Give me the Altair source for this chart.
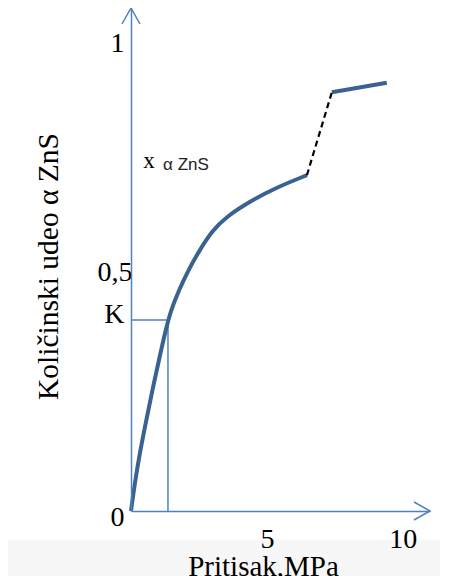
import altair as alt
import pandas as pd

# ---- data ----
curve_x = [0, 0.147, 0.331, 0.551, 0.772, 1.029, 1.25, 1.471, 1.765, 2.096, 2.5, 2.978, 3.493, 4.449, 5.478, 6.471]
curve_y = [0, 0.062, 0.126, 0.190, 0.254, 0.322, 0.380, 0.429, 0.471, 0.512, 0.554, 0.597, 0.627, 0.663, 0.693, 0.716]
dash_x = [6.471, 7.39]
dash_y = [0.716, 0.893]
upper_x = [7.39, 9.41]
upper_y = [0.893, 0.913]
K_x = 1.36
K_y = 0.407
x_ticks = [5, 10]
y_ticks = [0, K_y, 0.5, 1]
x_max = 11
y_max = 1.0725

AXIS_BLUE = "#4F81BD"
CURVE_BLUE = "#3A6291"
SERIF = "'Liberation Serif', 'Times New Roman', Times, serif"

curve_df = pd.DataFrame({"x": curve_x, "y": curve_y})
dash_df = pd.DataFrame({"x": dash_x, "y": dash_y})
upper_df = pd.DataFrame({"x": upper_x, "y": upper_y})
guide_df = pd.DataFrame({"x": [0, K_x], "x2": [K_x, K_x], "y": [K_y, 0], "y2": [K_y, K_y]})
yarrow_df = pd.DataFrame({"x": [0], "y": [y_max]})
xarrow_df = pd.DataFrame({"x": [x_max], "y": [0]})
xlab_df = pd.DataFrame({"x": [0.66], "y": [0.731], "t": ["x"]})
sub_df = pd.DataFrame({"x": [1.18], "y": [0.728], "t": ["α ZnS"]})

x_axis = alt.Axis(
    values=x_ticks, ticks=False, grid=False, domain=True, domainColor=AXIS_BLUE, domainWidth=1.5,
    labelFont=SERIF, labelFontSize=28, labelColor="black", labelBaseline="alphabetic",
    labelPadding=36, labelFlush=False, labelOverlap=False,
    title="Pritisak,MPa", titleFont=SERIF, titleFontSize=29, titleFontWeight="normal",
    titleColor="black", titleX=132, titleY=64, titleAlign="center", titleBaseline="alphabetic",
    zindex=1,
)
y_axis = alt.Axis(
    values=y_ticks, ticks=False, grid=False, domain=True, domainColor=AXIS_BLUE, domainWidth=1.5,
    labelFont=SERIF, labelFontSize=28, labelColor="black", labelBaseline="alphabetic",
    labelAlign="right", labelFlush=False, labelOverlap=False,
    labelExpr="datum.value == 0 ? '0' : datum.value == 0.5 ? '0,5' : datum.value == 1 ? '1' : 'K'",
    labelPadding={"condition": {"test": "datum.value == 0.5", "value": -1}, "value": 7},
    labelOffset={"condition": [
        {"test": "datum.value == 0", "value": 14},
        {"test": "datum.value == 0.5", "value": 4},
        {"test": "datum.value == 1", "value": 9},
    ], "value": 2},
    title="Količinski udeo α ZnS", titleFont=SERIF, titleFontSize=29.5, titleFontWeight="normal",
    titleColor="black", titleAngle=270, titleX=-74, titleY=258, titleAlign="center",
    titleBaseline="alphabetic",
    zindex=1,
)

X = alt.X("x:Q", scale=alt.Scale(domain=[0, x_max], nice=False, zero=False), axis=x_axis)
Y = alt.Y("y:Q", scale=alt.Scale(domain=[0, y_max], nice=False, zero=False), axis=y_axis)

band = alt.Chart(yarrow_df).mark_rect(color="#f7f7f7").encode(
    x=alt.value(-123), x2=alt.value(316), y=alt.value(532), y2=alt.value(585)
)

guides = alt.Chart(guide_df).mark_rule(color=AXIS_BLUE, strokeWidth=1.5).encode(
    x=X, y=Y, x2="x2:Q", y2="y2:Q"
)

curve = alt.Chart(curve_df).mark_line(
    color=CURVE_BLUE, strokeWidth=4, interpolate="basis", strokeCap="butt"
).encode(x=X, y=Y)

dash = alt.Chart(dash_df).mark_line(
    color="black", strokeWidth=2.2, strokeDash=[6, 4]
).encode(x=X, y=Y)

upper = alt.Chart(upper_df).mark_line(color=CURVE_BLUE, strokeWidth=4).encode(x=X, y=Y)

yarrow = alt.Chart(yarrow_df).mark_point(
    shape="M-0.5625,1L0,0L0.5625,1", size=1024, filled=False,
    stroke=AXIS_BLUE, strokeWidth=1.5, opacity=1
).encode(x=X, y=Y)

xarrow = alt.Chart(xarrow_df).mark_point(
    shape="M-1,-0.5625L0,0L-1,0.5625", size=1024, filled=False,
    stroke=AXIS_BLUE, strokeWidth=1.5, opacity=1
).encode(x=X, y=Y)

xlab = alt.Chart(xlab_df).mark_text(
    font=SERIF, fontSize=23, color="black", align="center", baseline="alphabetic"
).encode(x=X, y=Y, text="t:N")

sub = alt.Chart(sub_df).mark_text(
    font="Liberation Sans", fontSize=17, color="#222222", align="left", baseline="alphabetic"
).encode(x=X, y=Y, text="t:N")

chart = alt.layer(band, guides, curve, dash, upper, yarrow, xarrow, xlab, sub).properties(
    width=299, height=503,
    autosize=alt.AutoSizeParams(type="none"),
    padding={"left": 123, "top": 0, "right": 10, "bottom": 80},
    background="white",
).configure(font=SERIF).configure_axis(
    labelFont=SERIF, titleFont=SERIF
).configure_view(stroke=None)

chart.save("out.html", embed_options={"renderer": "svg", "actions": False})
